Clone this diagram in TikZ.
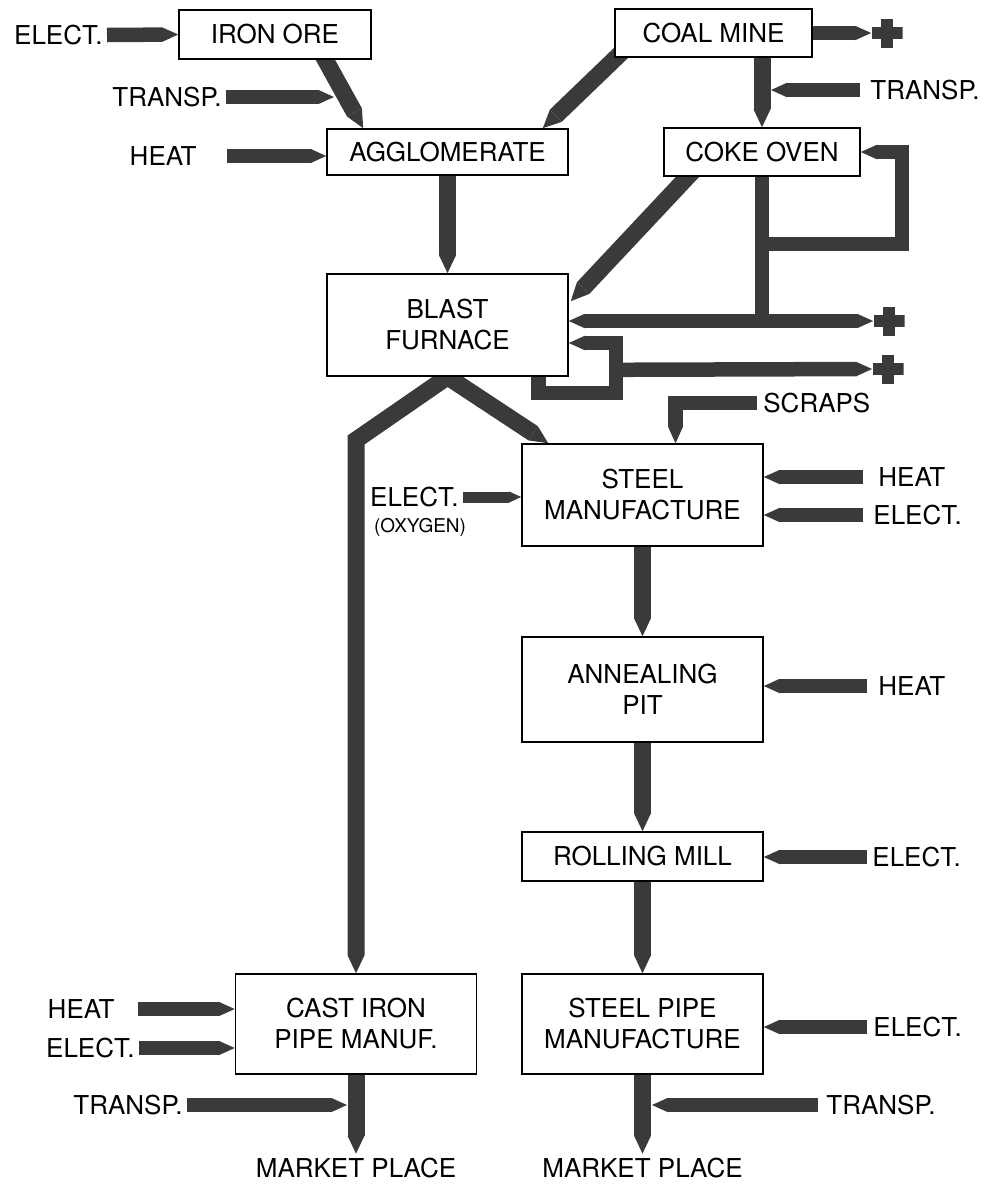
\documentclass[tikz,border=0pt]{standalone}
\usepackage{fontspec}
\setmainfont{TeX Gyre Heros}
\usepackage{tikz}
\usetikzlibrary{arrows.meta,calc,backgrounds}
\definecolor{barfill}{RGB}{58,58,58}
\tikzset{mainhead/.tip={Triangle[length=9pt,width=8.5pt,line width=0pt]},
         feedhead/.tip={Triangle[length=8pt,width=7.25pt,line width=0pt]},
         oxyhead/.tip={Triangle[length=6pt,width=5.5pt,line width=0pt]}}
\tikzstyle{process} = [draw, fill=white, line width=0.8pt, inner sep=0pt, align=center, font=\fontsize{13}{15.5}\selectfont]
\tikzstyle{wide} = [process, minimum width=120.5pt]
\tikzstyle{tag} = [inner sep=2pt, font=\fontsize{13}{15.5}\selectfont]
\tikzstyle{flow} = [draw=barfill, line width=8.5pt, line join=miter, -mainhead]
\tikzstyle{flowboth} = [flow, mainhead-mainhead]
\tikzstyle{feed} = [draw=barfill, line width=7.25pt, line join=miter, -feedhead]
\tikzstyle{feedboth} = [feed, feedhead-feedhead]
\tikzstyle{oxyfeed} = [draw=barfill, line width=5.5pt, -oxyhead]
\tikzstyle{bar} = [draw=barfill, line width=7.25pt]
\tikzstyle{plus} = [minimum width=15.5pt, minimum height=14.5pt, inner sep=0pt,
  path picture={\fill[barfill] ([yshift=-3.2pt]path picture bounding box.west) rectangle ([yshift=3.2pt]path picture bounding box.east);
                \fill[barfill] ([xshift=-3.2pt]path picture bounding box.south) rectangle ([xshift=3.2pt]path picture bounding box.north);}]

\begin{document}
\begin{tikzpicture}[x=0.5pt, y=-0.5pt]
\useasboundingbox (0,0) rectangle (988,1184);

% Process units
\node[process, minimum width=96pt, minimum height=24.5pt] (ironore) at (275,34.5) {IRON ORE};
\node[process, minimum width=98.5pt, minimum height=24pt] (coalmine) at (713.5,33) {COAL MINE};
\node[wide, minimum height=23pt] (agglom) at (447.5,152) {AGGLOMERATE};
\node[process, minimum width=98pt, minimum height=24pt] (cokeoven) at (762,152) {COKE OVEN};
\node[wide, minimum height=51pt] (furnace) at (447.5,325) {BLAST\\FURNACE};
\node[wide, minimum height=51pt] (steel) at (642.5,495) {STEEL\\MANUFACTURE};
\node[wide, minimum height=52.5pt] (anneal) at (642.5,689.5) {ANNEALING\\PIT};
\node[wide, minimum height=24.5pt] (rolling) at (642.5,856.5) {ROLLING MILL};
\node[wide, minimum height=50pt] (pipe) at (642.5,1024) {STEEL PIPE\\MANUFACTURE};
\node[wide, minimum height=50pt] (castiron) at (356,1024) {CAST IRON\\PIPE MANUF.};

% By-product outlets
\node[plus] (plusA) at (887,33) {};
\node[plus] (plusB) at (889,321) {};
\node[plus] (plusC) at (888,369) {};

% Input labels
\node[tag, anchor=east] (elecI) at (107,35) {ELECT.};
\node[tag, anchor=east] (transpI) at (226,97) {TRANSP.};
\node[tag, anchor=east] (heatA) at (201,156) {HEAT};
\node[tag, anchor=west] (transpC) at (866,90) {TRANSP.};
\node[tag, anchor=west] (scraps) at (759,403) {SCRAPS};
\node[tag, anchor=east] (elecO) at (463,497) {ELECT.};
\node[tag, font=\fontsize{9.5}{11}\selectfont] (oxygen) at (420,527) {(OXYGEN)};
\node[tag, anchor=west] (heatS) at (874,477) {HEAT};
\node[tag, anchor=west] (elecS) at (869,515) {ELECT.};
\node[tag, anchor=west] (heatN) at (874,686) {HEAT};
\node[tag, anchor=west] (elecR) at (868,857) {ELECT.};
\node[tag, anchor=west] (elecP) at (869,1027) {ELECT.};
\node[tag, anchor=west] (transpP) at (822,1105) {TRANSP.};
\node[tag, anchor=east] (heatC) at (119,1009) {HEAT};
\node[tag, anchor=east] (elecC) at (139,1048) {ELECT.};
\node[tag, anchor=east] (transpL) at (187,1105) {TRANSP.};
\node[tag] (marketL) at (356,1168) {MARKET PLACE};
\node[tag] (marketR) at (642.5,1168) {MARKET PLACE};

% Joints on the bars
\coordinate (orejoin) at (334,97);
\coordinate (cokejoin) at (771,90);
\coordinate (vcorner) at (356,440);
\coordinate (pipejoin) at (652,1105);
\coordinate (castjoin) at (347,1105);

\begin{scope}[on background layer]
% Main flows
\draw[flow] ($(ironore.south)+(47,-6)$) -- ($(agglom.north west)+(37,0)$);
\draw[flow] ($(coalmine.south west)+(8,-6)$) -- ($(agglom.north east)+(-26,0)$);
\draw[flow] (agglom.south) -- (furnace.north);
\draw[flow] (cokeoven.north |- coalmine.south) -- (cokeoven.north);
\draw[flow] ($(cokeoven.south west)+(30,-6)$) -- ($(furnace.north east)+(2,28)$);
\draw[flowboth] (castiron.north) -- (vcorner) -- (furnace.south) -- ($(steel.north west)+(27,0)$);
\draw[flow] (steel.south) -- (anneal.north);
\draw[flow] (anneal.south) -- (rolling.north);
\draw[flow] (rolling.south) -- (pipe.north);
\draw[flow] (pipe.south) -- (marketR.north);
\draw[flow] (castiron.south) -- (marketL.north);

% Gas and slag returns
\draw[feed] (coalmine.east) -- (plusA.west);
\draw[bar] (cokeoven.south) -- (cokeoven.south |- plusB);
\draw[feedboth] (furnace.east |- plusB) -- (plusB.west);
\draw[feed] ($(cokeoven.south)+(0,67)$) -| ($(cokeoven.east)+(41,0)$) -- (cokeoven.east);
\draw[feed] ($(furnace.south)+(91,-2)$) |- ($(furnace.south east)+(47,16)$) |- ($(furnace.east)+(0,18)$);
\draw[feed] ($(furnace.south east)+(47,-7)$) -- (plusC.west);

% Energy and transport inputs
\draw[feed] (elecI.east) -- (ironore.west);
\draw[feed] (transpI.east) -- (orejoin);
\draw[feed] ($(heatA.east)+(26,0)$) -- (agglom.west |- heatA);
\draw[feed] ($(transpC.west)+(-6,0)$) -- (cokejoin);
\draw[feed] ($(scraps.west)+(-2,0)$) -| ($(steel.north)+(33,0)$);
\draw[oxyfeed] (elecO.east) -- (steel.west |- elecO);
\draw[feed] ($(heatS.west)+(-11,0)$) -- (steel.east |- heatS);
\draw[feed] ($(elecS.west)+(-6,0)$) -- (steel.east |- elecS);
\draw[feed] ($(heatN.west)+(-7,0)$) -- (anneal.east |- heatN);
\draw[feed] ($(elecR.west)+(-1,0)$) -- (rolling.east |- elecR);
\draw[feed] ($(elecP.west)+(-2,0)$) -- (pipe.east |- elecP);
\draw[feed] ($(transpP.west)+(-4,0)$) -- (pipejoin);
\draw[feed] ($(heatC.east)+(19,0)$) -- (castiron.west |- heatC);
\draw[feed] (elecC.east) -- (castiron.west |- elecC);
\draw[feed] (transpL.east) -- (castjoin);
\end{scope}

\end{tikzpicture}
\end{document}
